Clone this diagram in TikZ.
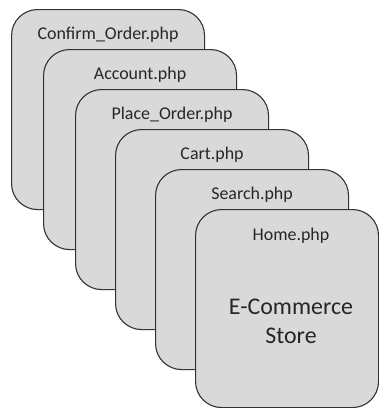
\documentclass[tikz,border=0pt]{standalone}
\usepackage{fontspec}
\setmainfont{Carlito}
\begin{document}
\begin{tikzpicture}[x=1bp,y=-1bp,
  page/.style={draw=black!80, line width=1.1bp, fill=black!15,
    rounded corners=26bp, minimum width=193bp, minimum height=200bp,
    anchor=north west, inner sep=0pt},
  pagename/.style={font=\fontsize{18}{21}\selectfont, text=black!85, anchor=center},
  storename/.style={font=\fontsize{24}{29}\selectfont, text=black!85, align=center}]
\useasboundingbox (0,0) rectangle (379,408);

% stacked pages, back to front
\node[page] (p1) at (11,9) {};
\node[pagename] (l1) at ([yshift=-26bp]p1.north) {Confirm\_Order.php};
\node[page] (p2) at (43,49) {};
\node[pagename] (l2) at ([yshift=-26bp]p2.north) {Account.php};
\node[page] (p3) at (75,89) {};
\node[pagename] (l3) at ([yshift=-26bp]p3.north) {Place\_Order.php};
\node[page] (p4) at (115,129) {};
\node[pagename] (l4) at ([yshift=-26bp]p4.north) {Cart.php};
\node[page] (p5) at (155,169) {};
\node[pagename] (l5) at ([yshift=-26bp]p5.north) {Search.php};
\node[page, minimum width=183bp, minimum height=198bp] (p6) at (195,209) {};
\node[pagename] (l6) at (291,236) {Home.php};
\node[storename] (store) at (291,321) {E-Commerce\\Store};
\end{tikzpicture}
\end{document}
